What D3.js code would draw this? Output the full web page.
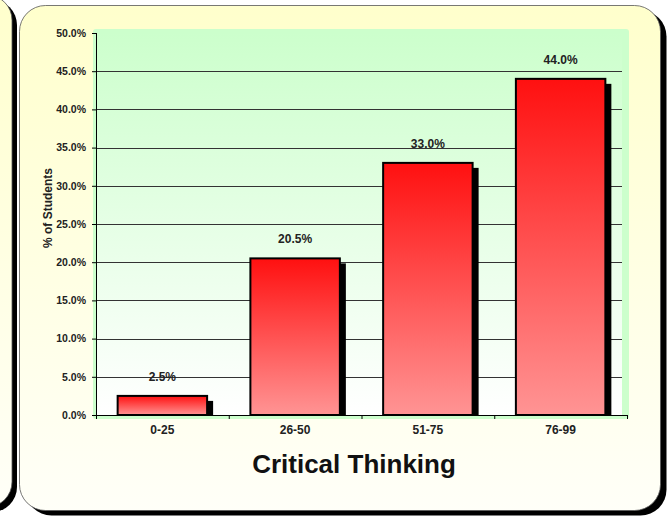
<!DOCTYPE html>
<html>
<head>
<meta charset="utf-8">
<script src="https://cdn.jsdelivr.net/npm/d3@7"></script>
<style>
  body { margin: 0; background: #fff; }
  svg { display: block; font-family: Arial, "Liberation Sans", sans-serif; }
</style>
</head>
<body>
<div class="chart"></div>
<script>
var svgWidth = 669;
var svgHeight = 516;

// Data
var categories = ["0-25", "26-50", "51-75", "76-99"];
var percents = [0.025, 0.205, 0.33, 0.44];
var yTicks = [0, 0.05, 0.1, 0.15, 0.2, 0.25, 0.3, 0.35, 0.4, 0.45, 0.5];

var plot = { left: 96, right: 627, top: 33, bottom: 415 };

var svg = d3.select(".chart")
  .append("svg")
  .attr("width", svgWidth)
  .attr("height", svgHeight);

var defs = svg.append("defs");

var panelGrad = defs.append("linearGradient")
  .attr("id", "panelGrad").attr("x1", 0).attr("y1", 0).attr("x2", 0).attr("y2", 1);
panelGrad.append("stop").attr("offset", "0%").attr("stop-color", "#ffffcc");
panelGrad.append("stop").attr("offset", "100%").attr("stop-color", "#fffff8");

var plotGrad = defs.append("linearGradient")
  .attr("id", "plotGrad").attr("x1", 0).attr("y1", 0).attr("x2", 0).attr("y2", 1);
plotGrad.append("stop").attr("offset", "0%").attr("stop-color", "#ccffcc");
plotGrad.append("stop").attr("offset", "100%").attr("stop-color", "#ffffff");

var barGrad = defs.append("linearGradient")
  .attr("id", "barGrad").attr("x1", 0).attr("y1", 0).attr("x2", 0).attr("y2", 1);
barGrad.append("stop").attr("offset", "0%").attr("stop-color", "#ff1010");
barGrad.append("stop").attr("offset", "100%").attr("stop-color", "#ff9494");

// Left (partial) panel
svg.append("rect")
  .attr("x", -635).attr("y", 0).attr("width", 652).attr("height", 512)
  .attr("rx", 25).attr("fill", "#000");
svg.append("rect")
  .attr("x", -640).attr("y", -5).attr("width", 652).attr("height", 512)
  .attr("rx", 25).attr("fill", "url(#panelGrad)")
  .attr("stroke", "#555").attr("stroke-width", 0.8);

// Main panel
svg.append("rect")
  .attr("x", 25.5).attr("y", 10.5).attr("width", 641).attr("height", 505)
  .attr("rx", 26).attr("fill", "#000");
svg.append("rect")
  .attr("x", 19.5).attr("y", 5.5).attr("width", 641).attr("height", 505)
  .attr("rx", 26).attr("fill", "url(#panelGrad)")
  .attr("stroke", "#555").attr("stroke-width", 0.8);

// Plot area
svg.append("rect")
  .attr("x", 93).attr("y", 29).attr("width", 536).attr("height", 390)
  .attr("rx", 3).attr("fill", "#ccffcc");
svg.append("rect")
  .attr("x", 97).attr("y", 33).attr("width", 525).attr("height", 382)
  .attr("fill", "url(#plotGrad)");

// Scales
var x = d3.scaleBand()
  .domain(categories)
  .range([plot.left, plot.right])
  .paddingInner(0.326)
  .paddingOuter(0.163);

var xEdges = d3.scaleLinear()
  .domain([0, categories.length])
  .range([plot.left, plot.right]);

var y = d3.scaleLinear()
  .domain([0, 0.5])
  .range([plot.bottom, plot.top]);

// Gridlines
svg.append("g")
  .selectAll("line")
  .data(yTicks.filter(d => d > 0 && d < 0.5))
  .enter()
  .append("line")
  .attr("x1", plot.left)
  .attr("x2", 622)
  .attr("y1", d => Math.round(y(d)) + 0.5)
  .attr("y2", d => Math.round(y(d)) + 0.5)
  .attr("stroke", "#333")
  .attr("stroke-width", 1);

// Bar shadows, clipped at the axis
defs.append("clipPath").attr("id", "plotClip")
  .append("rect")
  .attr("x", plot.left).attr("y", 0)
  .attr("width", plot.right - plot.left + 20).attr("height", plot.bottom);

svg.append("g")
  .attr("clip-path", "url(#plotClip)")
  .selectAll("rect")
  .data(percents)
  .enter()
  .append("rect")
  .attr("x", (d, i) => x(categories[i]) + 6)
  .attr("y", d => y(d) + 5)
  .attr("width", x.bandwidth())
  .attr("height", d => plot.bottom - y(d))
  .attr("fill", "#000");

// Bars
svg.append("g")
  .selectAll("rect")
  .data(percents)
  .enter()
  .append("rect")
  .attr("x", (d, i) => x(categories[i]))
  .attr("y", d => y(d))
  .attr("width", x.bandwidth())
  .attr("height", d => plot.bottom - y(d))
  .attr("fill", "url(#barGrad)")
  .attr("stroke", "#000")
  .attr("stroke-width", 2);

// Value labels
svg.append("g")
  .selectAll("text")
  .data(percents)
  .enter()
  .append("text")
  .attr("x", (d, i) => x(categories[i]) + x.bandwidth() / 2)
  .attr("y", d => y(d) - 15)
  .attr("text-anchor", "middle")
  .style("font-size", "12px")
  .style("font-weight", "bold")
  .attr("fill", "#222")
  .text(d => d3.format(".1%")(d));

// Y axis
var leftAxis = d3.axisLeft(y)
  .tickValues(yTicks)
  .tickFormat(d3.format(".1%"))
  .tickSize(4)
  .tickPadding(6);

var yAxisG = svg.append("g")
  .attr("transform", `translate(${plot.left}, 0)`)
  .call(leftAxis);
yAxisG.select(".domain").attr("stroke", "#000").attr("d", `M0.5,${plot.top}V${plot.bottom}`);
yAxisG.selectAll("text")
  .style("font-size", "10.5px")
  .style("font-weight", "bold")
  .style("font-family", "Arial, 'Liberation Sans', sans-serif")
  .attr("fill", "#222");

// X axis: tick marks at category edges
var edgeAxis = d3.axisBottom(xEdges)
  .ticks(categories.length)
  .tickFormat("")
  .tickSize(4);

var xAxisG = svg.append("g")
  .attr("transform", `translate(0, ${plot.bottom})`)
  .call(edgeAxis);
xAxisG.select(".domain").attr("stroke", "#000").attr("d", `M${plot.left},0.5H${plot.right}`);

// X category labels
svg.append("g")
  .selectAll("text")
  .data(categories)
  .enter()
  .append("text")
  .attr("x", d => x(d) + x.bandwidth() / 2)
  .attr("y", 434)
  .attr("text-anchor", "middle")
  .style("font-size", "12px")
  .style("font-weight", "bold")
  .attr("fill", "#222")
  .text(d => d);

// Axis titles
svg.append("text")
  .attr("transform", "translate(52, 208) rotate(-90)")
  .attr("text-anchor", "middle")
  .style("font-size", "12px")
  .style("font-weight", "bold")
  .attr("fill", "#222")
  .text("% of Students");

svg.append("text")
  .attr("x", 354)
  .attr("y", 473)
  .attr("text-anchor", "middle")
  .style("font-size", "26px")
  .style("font-weight", "bold")
  .attr("fill", "#111")
  .text("Critical Thinking");
</script>
</body>
</html>
